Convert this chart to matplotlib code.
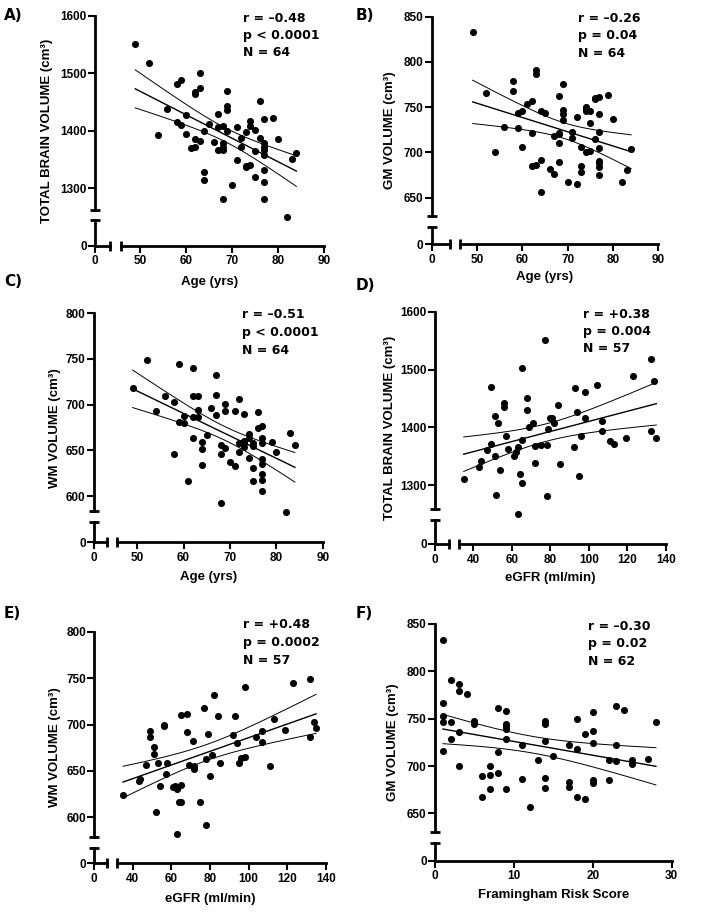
import numpy as np
import matplotlib
matplotlib.use("Agg")
from matplotlib import pyplot as plt

# ---- values ----
# A) age vs total brain volume
age_a = [49, 52, 54, 56, 58, 59, 58, 59, 60, 60, 61, 62, 62, 62, 62, 63, 63, 63, 64, 64,
         64, 65, 66, 67, 67, 67, 68, 68, 68, 68, 69, 69, 69, 69, 70, 71, 71, 72, 72, 73,
         73, 73, 74, 74, 74, 75, 75, 75, 76, 76, 77, 77, 77, 77, 77, 77, 77, 77, 79, 80,
         82, 83, 84, 68]
tbv_a = [1551, 1517, 1393, 1438, 1482, 1488, 1415, 1409, 1427, 1394, 1370, 1372, 1386, 1463,
         1468, 1501, 1474, 1382, 1400, 1328, 1315, 1411, 1380, 1429, 1407, 1367, 1408, 1378,
         1367, 1281, 1469, 1443, 1436, 1399, 1305, 1407, 1349, 1371, 1387, 1397, 1336, 1339,
         1416, 1408, 1341, 1402, 1364, 1319, 1452, 1388, 1420, 1379, 1372, 1366, 1357, 1331,
         1310, 1282, 1422, 1385, 1250, 1350, 1361, 1372]

# B) age vs grey matter volume
age_b = [49, 52, 54, 56, 58, 58, 59, 59, 60, 60, 61, 62, 62, 62, 63, 63, 63, 64, 64, 64,
         65, 66, 67, 67, 68, 68, 68, 68, 69, 69, 69, 69, 70, 71, 71, 72, 72, 73, 73, 73,
         74, 74, 74, 75, 75, 75, 76, 76, 77, 77, 77, 77, 77, 77, 77, 77, 79, 80, 82, 83,
         84, 76, 74, 68]
gm_b = [833, 766, 700, 728, 779, 768, 727, 744, 746, 706, 753, 757, 721, 685, 686, 791, 787,
        746, 692, 656, 744, 682, 718, 676, 762, 721, 710, 689, 776, 747, 743, 736, 667, 723,
        716, 739, 665, 706, 685, 678, 750, 746, 700, 746, 733, 702, 759, 715, 761, 742, 723,
        705, 691, 688, 684, 675, 763, 737, 667, 681, 704, 760, 748, 720]

# C) age vs white matter volume
age_c = [49, 52, 54, 56, 58, 58, 59, 59, 60, 60, 61, 62, 62, 62, 62, 63, 63, 63, 64, 64,
         64, 65, 66, 67, 67, 67, 68, 68, 68, 69, 69, 69, 70, 71, 71, 72, 72, 72, 73, 73,
         73, 74, 74, 74, 75, 75, 75, 76, 76, 77, 77, 77, 77, 77, 77, 77, 77, 79, 80, 82,
         83, 84, 75, 73]
wm_c = [718, 749, 693, 709, 703, 646, 745, 681, 688, 680, 616, 740, 709, 686, 664, 710, 694,
        686, 659, 652, 634, 667, 696, 732, 711, 689, 656, 646, 592, 701, 693, 653, 637, 693,
        633, 706, 658, 648, 690, 658, 654, 668, 663, 642, 655, 631, 616, 692, 674, 677, 663,
        658, 640, 635, 624, 618, 606, 659, 648, 582, 669, 656, 658, 660]

# D) and E) eGFR (same 57 subjects)
egfr = [35, 43, 44, 47, 49, 49, 51, 51, 52, 53, 54, 56, 56, 57, 58, 61, 62, 63, 63, 64,
        65, 65, 65, 68, 68, 69, 71, 72, 72, 75, 77, 78, 78, 79, 80, 81, 82, 84, 85, 92,
        93, 94, 95, 96, 98, 98, 104, 107, 107, 111, 113, 119, 123, 132, 132, 134, 135]
tbv_d = [1310, 1331, 1342, 1361, 1469, 1371, 1420, 1351, 1283, 1407, 1327, 1443, 1436, 1385,
         1363, 1351, 1358, 1366, 1251, 1319, 1502, 1378, 1304, 1451, 1430, 1401, 1407, 1368,
         1338, 1369, 1551, 1369, 1282, 1398, 1416, 1416, 1407, 1438, 1336, 1367, 1468, 1427,
         1316, 1386, 1462, 1416, 1473, 1411, 1394, 1377, 1372, 1382, 1489, 1518, 1394, 1481,
         1381]
wm_e = [624, 639, 641, 656, 693, 686, 676, 668, 606, 659, 634, 699, 698, 647, 658, 633, 634,
        631, 582, 616, 635, 710, 617, 711, 692, 656, 682, 652, 655, 616, 718, 663, 592, 690,
        645, 667, 732, 709, 658, 689, 709, 680, 658, 664, 740, 665, 686, 693, 681, 655, 706,
        694, 745, 749, 687, 703, 696]

# F) Framingham risk score vs grey matter volume
frs_f = [1, 1, 1, 1, 1, 2, 2, 2, 3, 3, 3, 3, 4, 5, 5, 6, 6, 7, 7, 7, 8, 8, 8, 9, 9, 9, 9,
         9, 9, 11, 11, 12, 13, 14, 14, 14, 14, 14, 15, 17, 17, 17, 18, 18, 18, 19, 19, 20,
         20, 20, 20, 20, 22, 22, 23, 23, 23, 24, 25, 25, 27, 28]
gm_f = [833, 767, 753, 746, 716, 791, 746, 729, 787, 779, 736, 700, 776, 748, 744, 689, 667,
        700, 691, 676, 761, 715, 693, 758, 744, 742, 739, 728, 676, 722, 686, 657, 706, 748,
        744, 726, 687, 677, 711, 722, 683, 678, 750, 718, 667, 734, 665, 757, 737, 724, 685,
        682, 706, 685, 763, 722, 705, 759, 706, 702, 707, 746]

age_ticks = [50, 60, 70, 80, 90]
egfr_ticks = [40, 60, 80, 100, 120, 140]
frs_ticks = [0, 10, 20, 30]
tbv_ticks = [1300, 1400, 1500, 1600]
gm_ticks = [650, 700, 750, 800, 850]
wm_ticks = [600, 650, 700, 750, 800]

stats_a = ["r = \u20130.48", "p < 0.0001", "N = 64"]
stats_b = ["r = \u20130.26", "p = 0.04", "N = 64"]
stats_c = ["r = \u20130.51", "p < 0.0001", "N = 64"]
stats_d = ["r = +0.38", "p = 0.004", "N = 57"]
stats_e = ["r = +0.48", "p = 0.0002", "N = 57"]
stats_f = ["r = \u20130.30", "p = 0.02", "N = 62"]

#-----------------------------------------------------------------#

W, H = 703, 914
LW = 2.0
T95 = 2.0  # t value for ~60 df
STATS_FONT = ["DejaVu Sans"]

plt.rcParams["font.family"] = ["Liberation Sans", "DejaVu Sans"]
plt.rcParams["font.weight"] = "bold"

fig = plt.figure(figsize=(W / 100, H / 100), dpi=100)


def add_px(l, t, r, b):
    return fig.add_axes([l / W, 1 - b / H, (r - l) / W, (b - t) / H])


def bare(ax, left=False, bottom=False):
    for side in ("top", "right", "left", "bottom"):
        ax.spines[side].set_visible(False)
    for side, on in (("left", left), ("bottom", bottom)):
        if on:
            ax.spines[side].set_visible(True)
            ax.spines[side].set_linewidth(LW)
    if not left:
        ax.set_yticks([])
    if not bottom:
        ax.set_xticks([])
    ax.patch.set_visible(False)
    ax.tick_params(axis="y", width=1.5, length=5, pad=1, labelsize=8.5)
    ax.tick_params(axis="x", width=1.5, length=5, pad=2, labelsize=8.5)


def brk(ax, x, y, mk):
    ax.plot([x], [y], marker=mk, ms=7.5, mew=LW, color="k",
            transform=ax.transAxes, clip_on=False)


def fit_lines(ax, x, y):
    x = np.asarray(x, float)
    y = np.asarray(y, float)
    n = len(x)
    b, a = np.polyfit(x, y, 1)
    xs = np.linspace(x.min(), x.max(), 100)
    yh = a + b * xs
    s = np.sqrt(((y - (a + b * x)) ** 2).sum() / (n - 2))
    se = s * np.sqrt(1 / n + (xs - x.mean()) ** 2 / ((x - x.mean()) ** 2).sum())
    ax.plot(xs, yh, lw=1.0, color="k")
    ax.plot(xs, yh + T95 * se, lw=0.7, color="k")
    ax.plot(xs, yh - T95 * se, lw=0.7, color="k")


def panel(x, y, g, xlim, ylim, xticks, yticks, xlabel, ylabel, stats,
          letter, letter_xy, ylab_x, xlab_y, stats_xy):
    x0, xl, xr, x1, yt, yu, yl, yb = g
    if xl is None:
        main = add_px(x0, yt, x1, yu)
        bare(main, left=True)
        main.set_yticks(yticks)
        bot = add_px(x0, yl, x1, yb)
        bare(bot, left=True, bottom=True)
        bot.set_xlim(xlim)
        bot.set_xticks(xticks)
        bot.set_ylim(0, 1)
        bot.set_yticks([0])
        brk(main, 0, 0, "_")
        brk(bot, 0, 1, "_")
    else:
        tl = add_px(x0, yt, xl, yu)
        bare(tl, left=True)
        tl.set_xlim(0, 1)
        tl.set_ylim(ylim)
        tl.set_yticks(yticks)
        main = add_px(xr, yt, x1, yu)
        bare(main)
        bl = add_px(x0, yl, xl, yb)
        bare(bl, left=True, bottom=True)
        bl.set_xlim(0, 1)
        bl.set_xticks([0])
        bl.set_ylim(0, 1)
        bl.set_yticks([0])
        br = add_px(xr, yl, x1, yb)
        bare(br, bottom=True)
        br.set_xlim(xlim)
        br.set_xticks(xticks)
        br.set_ylim(0, 1)
        brk(tl, 0, 0, "_")
        brk(bl, 0, 1, "_")
        brk(bl, 1, 0, "|")
        brk(br, 0, 0, "|")
    main.set_xlim(xlim)
    main.set_ylim(ylim)
    main.scatter(x, y, s=26, color="k", linewidths=0, clip_on=False, zorder=3)
    fit_lines(main, x, y)

    fig.text(ylab_x / W, 1 - (yt + yb) / 2 / H, ylabel, rotation=90,
             ha="center", va="center", fontsize=9.5)
    fig.text((x0 + x1) / 2 / W, 1 - xlab_y / H, xlabel,
             ha="center", va="center", fontsize=9.5)
    sx, sys_ = stats_xy
    for line, ly in zip(stats, sys_):
        fig.text(sx / W, 1 - ly / H, line, ha="left", va="center",
                 fontsize=9, family=STATS_FONT, weight="bold")
    fig.text(letter_xy[0] / W, 1 - letter_xy[1] / H, letter, ha="left",
             va="center", fontsize=11, family=STATS_FONT, weight="bold")


panel(age_a, tbv_a, (95, 110, 121, 324, 15.7, 210, 220, 245.7), (45.9, 90), (1262, 1600),
      age_ticks, tbv_ticks, "Age (yrs)", "TOTAL BRAIN VOLUME (cm\u00b3)", stats_a,
      "A)", (4, 15), 46.7, 281.7, (243, [18, 35, 52]))
panel(age_b, gm_b, (431.7, 450, 460, 658.3, 16.7, 216, 227.3, 244.3), (46.2, 90), (629.8, 850),
      age_ticks, gm_ticks, "Age (yrs)", "GM VOLUME (cm\u00b3)", stats_b,
      "B)", (356, 15), 390, 277.3, (578, [18.3, 35, 53.3]))
panel(age_c, wm_c, (94, 106.7, 117.3, 322.7, 313.3, 511, 521.7, 542.3), (45.7, 90), (583.6, 800),
      age_ticks, wm_ticks, "Age (yrs)", "WM VOLUME (cm\u00b3)", stats_c,
      "C)", (4, 282), 55, 576.7, (241.7, [315, 332.3, 350]))
panel(egfr, tbv_d, (435.3, 448.7, 458.7, 666, 311.7, 509, 520, 544), (32.4, 140), (1259, 1600),
      egfr_ticks, tbv_ticks, "eGFR (ml/min)", "TOTAL BRAIN VOLUME (cm\u00b3)", stats_d,
      "D)", (356, 285), 390, 578.3, (583.3, [315, 331.7, 348.3]))
panel(egfr, wm_e, (94.3, 107.3, 117.3, 325.7, 631.7, 836.7, 847.7, 863.3), (32, 140), (579.1, 800),
      egfr_ticks, wm_ticks, "eGFR (ml/min)", "WM VOLUME (cm\u00b3)", stats_e,
      "E)", (4, 614), 55, 899, (242.7, [625, 642.7, 660]))
panel(frs_f, gm_f, (435, None, None, 671.7, 624, 831.7, 843.3, 860.7), (0, 30), (630.6, 850),
      frs_ticks, gm_ticks, "Framingham Risk Score", "GM VOLUME (cm\u00b3)", stats_f,
      "F)", (356, 614), 393.3, 895, (588.3, [626, 643.3, 661.7]))

fig.savefig("out.png", dpi=100, facecolor="white")
